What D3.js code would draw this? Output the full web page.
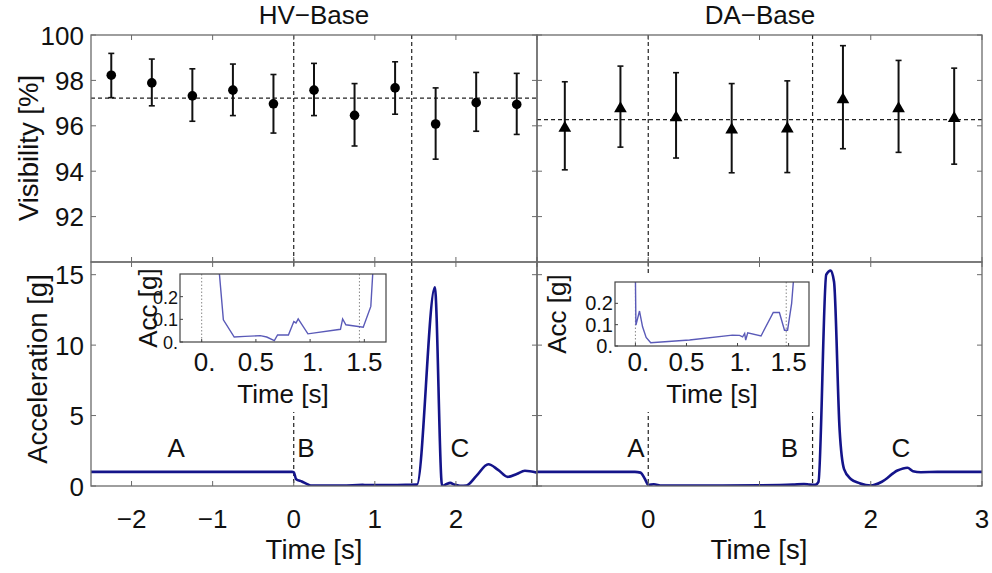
<!DOCTYPE html>
<html>
<head>
<meta charset="utf-8">
<script src="https://cdn.jsdelivr.net/npm/d3@7"></script>
<style>
  body { margin: 0; background: #fff; }
  text { font-family: "Liberation Sans", Arial, sans-serif; fill: #111; }
</style>
</head>
<body>
<div id="chart"></div>
<script>
// --- data
var hvTime = [-2.25, -1.75, -1.25, -0.75, -0.25, 0.25, 0.75, 1.25, 1.75, 2.25, 2.75];
var hvVis  = [98.23, 97.89, 97.32, 97.57, 96.97, 97.57, 96.46, 97.67, 96.08, 97.02, 96.94];
var hvHi   = [99.19, 98.94, 98.51, 98.72, 98.26, 98.75, 97.86, 98.82, 97.67, 98.35, 98.31];
var hvLo   = [97.24, 96.88, 96.20, 96.45, 95.68, 96.45, 95.11, 96.51, 94.53, 95.76, 95.62];
var hvMean = 97.22;

var daTime = [-0.75, -0.25, 0.25, 0.75, 1.25, 1.75, 2.25, 2.75];
var daVis  = [95.90, 96.76, 96.36, 95.82, 95.87, 97.16, 96.76, 96.33];
var daHi   = [97.94, 98.63, 98.34, 97.86, 97.98, 99.53, 98.88, 98.54];
var daLo   = [94.06, 95.06, 94.58, 93.93, 93.94, 94.99, 94.83, 94.31];
var daMean = 96.27;

var hvAccT = [-2.5, -0.02, 0.0, 0.03, 0.1, 0.16, 0.21, 0.35, 0.6, 0.85, 0.9, 1.2, 1.4, 1.52, 1.74, 1.83, 1.88, 1.93, 1.98, 2.05, 2.13, 2.25, 2.40, 2.52, 2.64, 2.75, 2.85, 3.0];
var hvAccV = [1.0, 1.0, 0.98, 0.48, 0.32, 0.15, 0.04, 0.03, 0.03, 0.08, 0.06, 0.06, 0.08, 0.1, 14.1, 0.0, 0.12, 0.22, 0.1, 0.02, 0.04, 0.7, 1.54, 1.15, 0.65, 0.85, 1.08, 0.95];

var daAccT = [-1.0, -0.12, -0.07, -0.03, 0.0, 0.05, 0.12, 0.5, 1.0, 1.3, 1.4, 1.45, 1.5, 1.53, 1.6, 1.64, 1.67, 1.72, 1.76, 1.82, 1.9, 2.0, 2.1, 2.24, 2.33, 2.38, 2.45, 2.6, 3.0];
var daAccV = [1.0, 1.0, 0.95, 0.5, 0.08, 0.12, 0.03, 0.03, 0.05, 0.1, 0.14, 0.1, 0.08, 0.3, 15.0, 15.3, 14.5, 4.0, 1.2, 0.5, 0.2, 0.03, 0.3, 1.1, 1.3, 1.05, 0.98, 1.0, 1.0];

var hvInsetT = [0.16, 0.2, 0.3, 0.4, 0.54, 0.6, 0.67, 0.7, 0.8, 0.85, 0.87, 0.89, 0.98, 1.28, 1.30, 1.33, 1.49, 1.56, 1.58];
var hvInsetV = [0.32, 0.098, 0.022, 0.025, 0.028, 0.022, 0.006, 0.031, 0.031, 0.09, 0.084, 0.102, 0.036, 0.056, 0.102, 0.076, 0.065, 0.157, 0.32];

var daInsetT = [0.0, 0.005, 0.04, 0.07, 0.105, 0.15, 0.53, 0.95, 1.02, 1.05, 1.07, 1.08, 1.1, 1.23, 1.35, 1.41, 1.46, 1.49, 1.53, 1.55];
var daInsetV = [0.32, 0.098, 0.164, 0.09, 0.04, 0.015, 0.028, 0.051, 0.05, 0.043, 0.059, 0.028, 0.062, 0.047, 0.157, 0.157, 0.074, 0.074, 0.2, 0.32];

var hvEvents = [0, 1.455];
var daEvents = [0, 1.477];

var phaseNames = ['A', 'B', 'C'];
var hvPhaseT = [-1.45, 0.15, 2.05];
var daPhaseT = [-0.11, 1.27, 2.27];
var phaseV = 2.05;

var visTicks = [92, 94, 96, 98, 100];
var accTicks = [0, 5, 10, 15];
var hvTicks = [-2, -1, 0, 1, 2, 3];
var daTicks = [-1, 0, 1, 2, 3];
var hvTickLabels = [-2, -1, 0, 1, 2];
var daTickLabels = [0, 1, 2, 3];
var insetXTicks = [0, 0.5, 1, 1.5];
var insetXLabels = ['0.', '0.5', '1.', '1.5'];
var insetYTicks = [0, 0.1, 0.2];
var insetYLabels = ['0.', '0.1', '0.2'];

// --- page
var W = 992, H = 573;
var svg = d3.select('#chart').append('svg').attr('width', W).attr('height', H);

var frameCol = '#6a6a6a', lineCol = '#14148a', insetCol = '#5a5ab8';
var fs = 26, fsLab = 27.5;

var xHV = d3.scaleLinear().domain([-2.5, 3]).range([91, 537]);
var xDA = d3.scaleLinear().domain([-1, 3]).range([537, 982]);
var yVis = d3.scaleLinear().domain([90, 100]).range([262, 35]);
var yAcc = d3.scaleLinear().domain([0, 15.9]).range([486, 262]);

function fmt(d) { return d < 0 ? '\u2212' + (-d) : String(d); }

function frame(g, x, y, xt, yt, len) {
  var x0 = x.range()[0], x1 = x.range()[1], y0 = y.range()[1], y1 = y.range()[0];
  g.append('rect').attr('x', x0).attr('y', y0).attr('width', x1 - x0).attr('height', y1 - y0)
    .attr('fill', 'none').attr('stroke', frameCol).attr('stroke-width', 1.3);
  xt.forEach(function(t) {
    g.append('line').attr('x1', x(t)).attr('x2', x(t)).attr('y1', y1).attr('y2', y1 - len).attr('stroke', frameCol);
    g.append('line').attr('x1', x(t)).attr('x2', x(t)).attr('y1', y0).attr('y2', y0 + len).attr('stroke', frameCol);
  });
  yt.forEach(function(t) {
    g.append('line').attr('x1', x0).attr('x2', x0 + len).attr('y1', y(t)).attr('y2', y(t)).attr('stroke', frameCol);
    g.append('line').attr('x1', x1).attr('x2', x1 - len).attr('y1', y(t)).attr('y2', y(t)).attr('stroke', frameCol);
  });
}

function dashedV(g, x, y, ts, dash) {
  ts.forEach(function(t) {
    g.append('line').attr('x1', x(t)).attr('x2', x(t)).attr('y1', y.range()[1]).attr('y2', y.range()[0])
      .attr('stroke', '#222').attr('stroke-width', 1.2).attr('stroke-dasharray', dash);
  });
}

// --- top panels (visibility)
function visPanel(x, times, vis, lo, hi, mean, events, tri) {
  var g = svg.append('g');
  dashedV(g, x, yVis, events, '4,3');
  g.append('line').attr('x1', x.range()[0]).attr('x2', x.range()[1])
    .attr('y1', yVis(mean)).attr('y2', yVis(mean))
    .attr('stroke', '#222').attr('stroke-width', 1.2).attr('stroke-dasharray', '4,3');
  times.forEach(function(t, i) {
    var cx = x(t);
    g.append('line').attr('x1', cx).attr('x2', cx).attr('y1', yVis(lo[i])).attr('y2', yVis(hi[i]))
      .attr('stroke', '#111').attr('stroke-width', 2);
    [lo[i], hi[i]].forEach(function(v) {
      g.append('line').attr('x1', cx - 3).attr('x2', cx + 3).attr('y1', yVis(v)).attr('y2', yVis(v))
        .attr('stroke', '#111').attr('stroke-width', 1.6);
    });
    if (tri) {
      g.append('path').attr('d', d3.symbol(d3.symbolTriangle, 70)())
        .attr('transform', 'translate(' + cx + ',' + yVis(vis[i]) + ')').attr('fill', '#000');
    } else {
      g.append('circle').attr('cx', cx).attr('cy', yVis(vis[i])).attr('r', 4.8).attr('fill', '#000');
    }
  });
  return g;
}

var gHVtop = visPanel(xHV, hvTime, hvVis, hvLo, hvHi, hvMean, hvEvents, false);
frame(gHVtop, xHV, yVis, hvTicks, visTicks, 5);
var gDAtop = visPanel(xDA, daTime, daVis, daLo, daHi, daMean, daEvents, true);
frame(gDAtop, xDA, yVis, daTicks, visTicks, 5);

svg.selectAll('.vtick').data(visTicks).enter().append('text')
  .attr('x', 84).attr('y', function(d) { return yVis(d) + 9.5; })
  .attr('text-anchor', 'end').attr('font-size', fs).text(function(d) { return d; });

svg.append('text').attr('x', 314).attr('y', 24).attr('text-anchor', 'middle').attr('font-size', fs).text('HV\u2212Base');
svg.append('text').attr('x', 760).attr('y', 24).attr('text-anchor', 'middle').attr('font-size', fs).text('DA\u2212Base');

svg.append('text').attr('transform', 'translate(38,148) rotate(-90)')
  .attr('text-anchor', 'middle').attr('font-size', fsLab).text('Visibility [%]');

// --- bottom panels (acceleration)
var line = d3.line().curve(d3.curveMonotoneX);

function accPanel(x, T, V, events, phaseT, id) {
  var g = svg.append('g');
  dashedV(g, x, yAcc, events, '4,3');
  g.append('clipPath').attr('id', id).append('rect')
    .attr('x', x.range()[0]).attr('y', yAcc.range()[1])
    .attr('width', x.range()[1] - x.range()[0]).attr('height', yAcc.range()[0] - yAcc.range()[1]);
  g.append('path').attr('clip-path', 'url(#' + id + ')')
    .attr('d', line(T.map(function(t, i) { return [x(t), yAcc(V[i])]; })))
    .attr('fill', 'none').attr('stroke', lineCol).attr('stroke-width', 2.6);
  phaseT.forEach(function(t, i) {
    g.append('text').attr('x', x(t)).attr('y', yAcc(phaseV)).attr('text-anchor', 'middle')
      .attr('font-size', fs).text(phaseNames[i]);
  });
  return g;
}

var gHVbot = accPanel(xHV, hvAccT, hvAccV, hvEvents, hvPhaseT, 'clipHV');
var gDAbot = accPanel(xDA, daAccT, daAccV, daEvents, daPhaseT, 'clipDA');

svg.selectAll('.atick').data(accTicks).enter().append('text')
  .attr('x', 84).attr('y', function(d) { return yAcc(d) + 9.5; })
  .attr('text-anchor', 'end').attr('font-size', fs).text(function(d) { return d; });

svg.append('text').attr('transform', 'translate(47,369) rotate(-90)')
  .attr('text-anchor', 'middle').attr('font-size', fsLab).text('Acceleration  [g]');

svg.selectAll('.hvx').data(hvTickLabels).enter().append('text')
  .attr('x', function(d) { return xHV(d); }).attr('y', 528)
  .attr('text-anchor', 'middle').attr('font-size', fs).text(fmt);
svg.selectAll('.dax').data(daTickLabels).enter().append('text')
  .attr('x', function(d) { return xDA(d); }).attr('y', 528)
  .attr('text-anchor', 'middle').attr('font-size', fs).text(fmt);

svg.append('text').attr('x', 314).attr('y', 559).attr('text-anchor', 'middle').attr('font-size', fsLab).text('Time [s]');
svg.append('text').attr('x', 759).attr('y', 559).attr('text-anchor', 'middle').attr('font-size', fsLab).text('Time [s]');

// --- insets
function inset(bg, xr, yr, T, V, events, id, accX, yfs) {
  var g = svg.append('g');
  g.append('rect').attr('x', bg[0]).attr('y', bg[1]).attr('width', bg[2] - bg[0]).attr('height', bg[3] - bg[1])
    .attr('fill', '#fff');
  var x = d3.scaleLinear().domain([-0.2, 1.7]).range(xr);
  var y = d3.scaleLinear().domain([0, 0.3]).range(yr);
  events.forEach(function(t) {
    g.append('line').attr('x1', x(t)).attr('x2', x(t)).attr('y1', yr[1]).attr('y2', yr[0])
      .attr('stroke', '#888').attr('stroke-width', 1).attr('stroke-dasharray', '1.5,2');
  });
  g.append('clipPath').attr('id', id).append('rect')
    .attr('x', xr[0]).attr('y', yr[1]).attr('width', xr[1] - xr[0]).attr('height', yr[0] - yr[1]);
  g.append('path').attr('clip-path', 'url(#' + id + ')')
    .attr('d', d3.line()(T.map(function(t, i) { return [x(t), y(V[i])]; })))
    .attr('fill', 'none').attr('stroke', insetCol).attr('stroke-width', 1.4);
  g.append('rect').attr('x', xr[0]).attr('y', yr[1]).attr('width', xr[1] - xr[0]).attr('height', yr[0] - yr[1])
    .attr('fill', 'none').attr('stroke', '#444').attr('stroke-width', 1.2);
  insetXTicks.forEach(function(t, i) {
    g.append('line').attr('x1', x(t)).attr('x2', x(t)).attr('y1', yr[0]).attr('y2', yr[0] - 3).attr('stroke', '#444');
    g.append('text').attr('x', x(t) + (insetXLabels[i].length == 2 ? 3 : 0)).attr('y', 371)
      .attr('text-anchor', 'middle').attr('font-size', fs).text(insetXLabels[i]);
  });
  g.append('text').attr('transform', 'translate(' + accX + ',' + ((yr[0] + yr[1]) / 2) + ') rotate(-90)')
    .attr('text-anchor', 'middle').attr('font-size', fs).text('Acc [g]');
  insetYTicks.forEach(function(t, i) {
    g.append('line').attr('x1', xr[0]).attr('x2', xr[0] + 3).attr('y1', y(t)).attr('y2', y(t)).attr('stroke', '#444');
    g.append('text').attr('x', xr[0] - 2).attr('y', y(t) + 7)
      .attr('text-anchor', 'end').attr('font-size', yfs).text(insetYLabels[i]);
  });
  g.append('text').attr('x', (xr[0] + xr[1]) / 2).attr('y', 403).attr('text-anchor', 'middle')
    .attr('font-size', fs).text('Time [s]');
}

inset([137, 268, 392, 412], [180, 386], [342, 274], hvInsetT, hvInsetV, hvEvents, 'clipI1', 157, 18);
inset([543, 276, 816, 412], [615, 809], [346, 282], daInsetT, daInsetV, daEvents, 'clipI2', 566, 20);

// frames of the bottom panels go last so the inset backgrounds do not hide them
frame(gHVbot, xHV, yAcc, hvTicks, accTicks, 5);
frame(gDAbot, xDA, yAcc, daTicks, accTicks, 5);
</script>
</body>
</html>
